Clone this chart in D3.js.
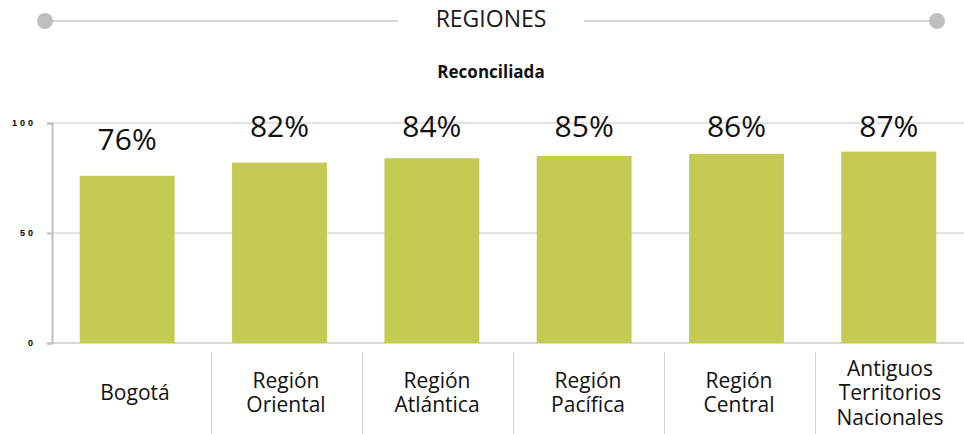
<!DOCTYPE html>
<html>
<head>
<meta charset="utf-8">
<script src="https://cdn.jsdelivr.net/npm/d3@7"></script>
<style>
  body { margin: 0; background: #fff; }
  svg { display: block; }
</style>
</head>
<body>
<div id="chart"></div>
<script>
const regiones = ['Bogotá', 'Región Oriental', 'Región Atlántica', 'Región Pacífica', 'Región Central', 'Antiguos Territorios Nacionales']
const etiquetas = [['Bogotá'], ['Región', 'Oriental'], ['Región', 'Atlántica'], ['Región', 'Pacífica'], ['Región', 'Central'], ['Antiguos', 'Territorios', 'Nacionales']]
const reconciliada = [76, 82, 84, 85, 86, 87]
const yTicks = [0, 50, 100]

const width = 964, height = 434
const barColor = '#c5cb52'
const font = '"Open Sans", "Noto Sans", sans-serif'

const svg = d3.select('#chart').append('svg')
  .attr('width', width)
  .attr('height', height)

// header: line - title - line, with dots at the ends
const header = svg.append('g')
header.append('line').attr('x1', 45).attr('x2', 398).attr('y1', 21).attr('y2', 21)
  .attr('stroke', '#c8c8c8').attr('stroke-width', 1.5)
header.append('line').attr('x1', 584).attr('x2', 937).attr('y1', 21).attr('y2', 21)
  .attr('stroke', '#c8c8c8').attr('stroke-width', 1.5)
header.selectAll('circle').data([45, 937]).join('circle')
  .attr('cx', d => d).attr('cy', 21).attr('r', 8).attr('fill', '#bfbfbf')
header.append('text')
  .attr('x', 491).attr('y', 27)
  .attr('text-anchor', 'middle')
  .style('font-family', font).style('font-size', '23px').attr('fill', '#1a1a1a')
  .text('REGIONES')

svg.append('text')
  .attr('x', 491).attr('y', 78)
  .attr('text-anchor', 'middle')
  .style('font-family', font).style('font-size', '17px').style('font-weight', 700).attr('fill', '#111')
  .text('Reconciliada')

const x = d3.scaleBand().domain(regiones).range([51, 965]).paddingInner(0.377).paddingOuter(0.1885)
const y = d3.scaleLinear().domain([0, 100]).range([343, 123])

// gridlines
svg.append('g').selectAll('line').data(yTicks).join('line')
  .attr('x1', 52).attr('x2', width)
  .attr('y1', d => y(d)).attr('y2', d => y(d))
  .attr('stroke', d => d === 0 ? '#d9d9d9' : '#c8c8c8')
  .attr('stroke-width', d => d === 0 ? 2 : 1)

// y axis
const yAxis = svg.append('g')
  .attr('transform', 'translate(52,0)')
  .call(d3.axisLeft(y).tickValues(yTicks).tickSize(5).tickPadding(11))
yAxis.select('.domain').attr('stroke', '#bfbfbf').attr('stroke-width', 2)
yAxis.selectAll('.tick line').attr('stroke', '#bfbfbf').attr('stroke-width', 2)
yAxis.selectAll('.tick text')
  .style('font-family', 'Arial, "Liberation Sans", sans-serif')
  .style('font-size', '9px').style('font-weight', 700)
  .style('letter-spacing', '3px')
  .attr('fill', '#000')

// bars
svg.append('g').selectAll('rect').data(reconciliada).join('rect')
  .attr('x', (d, i) => x(regiones[i]))
  .attr('y', d => y(d))
  .attr('width', x.bandwidth())
  .attr('height', d => y(0) - y(d))
  .attr('fill', barColor)

// value labels
svg.append('g').selectAll('text').data(reconciliada).join('text')
  .attr('x', (d, i) => x(regiones[i]) + x.bandwidth() / 2)
  .attr('y', d => Math.max(y(d) - 26, 137))
  .attr('text-anchor', 'middle')
  .style('font-family', font).style('font-size', '30px')
  .attr('fill', '#111')
  .text(d => d + '%')

// category table below
const xl = d3.scaleBand().domain(regiones).range([59.5, 965.5])
svg.append('g').selectAll('line').data(regiones.slice(1)).join('line')
  .attr('x1', d => Math.round(xl(d)) + 0.5).attr('x2', d => Math.round(xl(d)) + 0.5)
  .attr('y1', 352).attr('y2', height)
  .attr('stroke', '#d0d0d0').attr('stroke-width', 1)

const lineH = 24.5
const labels = svg.append('g').selectAll('text').data(etiquetas).join('text')
  .attr('text-anchor', 'middle')
  .style('font-family', font).style('font-size', '21px')
  .attr('fill', '#111')
labels.each(function (lines, i) {
  const cx = xl(regiones[i]) + xl.bandwidth() / 2
  const y0 = 400 - (lines.length - 1) * lineH / 2
  d3.select(this).selectAll('tspan').data(lines).join('tspan')
    .attr('x', cx)
    .attr('y', (d, j) => y0 + j * lineH)
    .text(d => d)
})
</script>
</body>
</html>
